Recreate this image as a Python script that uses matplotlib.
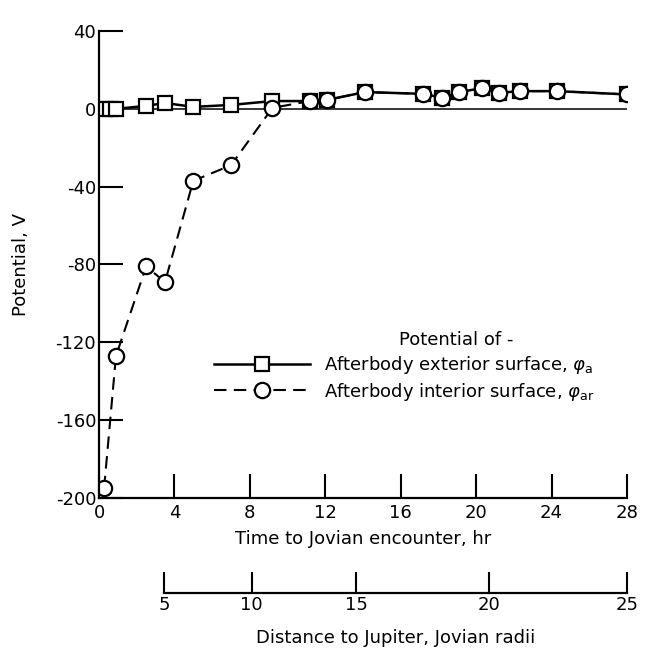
import matplotlib
matplotlib.use("Agg")
import matplotlib.pyplot as plt

# Data
time_ext = [0.3, 0.6, 0.9, 2.5, 3.5, 5.0, 7.0, 9.2, 11.2, 12.1, 14.1, 17.2,
            18.2, 19.1, 20.3, 21.2, 22.3, 24.3, 28.0]
pot_ext = [0, 0, 0, 1.5, 3, 1, 2, 4, 4, 4.6, 8.6, 7.7, 5.7, 8.6, 10.6, 8.2,
           9.1, 9.1, 7.4]

time_int = [0.27, 0.9, 2.5, 3.5, 5.0, 7.0, 9.2, 11.2, 12.1, 14.1, 17.2, 18.2,
            19.1, 20.3, 21.2, 22.3, 24.3, 28.0]
pot_int = [-195, -127, -81, -89, -37, -29, 0.5, 4, 4.6, 8.6, 7.7, 5.7, 8.6,
           10.6, 8.2, 9.1, 9.1, 7.4]

time_ticks = [0, 4, 8, 12, 16, 20, 24, 28]
pot_ticks = [40, 0, -40, -80, -120, -160, -200]

# distance scale (Jovian radii) and where each mark falls on the time axis
dist_labels = [5, 10, 15, 20, 25]
dist_at_time = [3.45, 8.1, 13.65, 20.7, 28.0]

plt.rcParams['font.family'] = ['DejaVu Sans']
plt.rcParams['font.size'] = 13
plt.rcParams['axes.unicode_minus'] = False
plt.rcParams['mathtext.fontset'] = 'dejavusans'

W, H = 645, 652
fig = plt.figure(figsize=(W / 100, H / 100), dpi=100)

x0, x1 = 99, 627
y_top, y_bot = 31, 498
ax = fig.add_axes([x0 / W, (H - y_bot) / H, (x1 - x0) / W, (y_bot - y_top) / H])

ax.plot(time_ext, pot_ext, color='black', lw=1.8, marker='s', ms=10,
        mfc='white', mec='black', mew=1.6,
        label=r'Afterbody exterior surface, $\varphi_{\rm a}$')
ax.plot(time_int, pot_int, color='black', lw=1.5, ls=(0, (6, 3.5)), marker='o',
        ms=11, mfc='white', mec='black', mew=1.6,
        label=r'Afterbody interior surface, $\varphi_{\rm ar}$')
ax.axhline(0, color='black', lw=1.1, zorder=1)

ax.set_xlim(0, 28)
ax.set_ylim(-200, 40)
ax.set_xticks(time_ticks)
ax.set_yticks(pot_ticks)
for s in ['top', 'right']:
    ax.spines[s].set_visible(False)
for s in ['left', 'bottom']:
    ax.spines[s].set_linewidth(1.6)
ax.tick_params(direction='in', length=17, width=1.5)
ax.tick_params(axis='x', pad=4)
ax.tick_params(axis='y', pad=2)

ax.set_ylabel('Potential, V')
ax.yaxis.set_label_coords((30 - x0) / (x1 - x0), 0.5)
ax.set_xlabel('Time to Jovian encounter, hr')
ax.xaxis.set_label_coords(0.5, (y_bot - 530) / (y_bot - y_top))

fig.text(399 / W, (H - 340) / H, 'Potential of -', va='center', ha='left')
ax.legend(loc='upper left', bbox_to_anchor=(214 / W, (H - 354) / H),
          bbox_transform=fig.transFigure, frameon=False, borderpad=0,
          borderaxespad=0, handlelength=5.3, handletextpad=0.8,
          labelspacing=0.25, numpoints=1)

# second scale: distance to Jupiter
y2 = 593
ax2 = fig.add_axes([x0 / W, (H - y2) / H, (x1 - x0) / W, 0.03])
ax2.patch.set_visible(False)
ax2.set_xlim(0, 28)
ax2.set_yticks([])
for s in ['top', 'right', 'left']:
    ax2.spines[s].set_visible(False)
ax2.spines['bottom'].set_bounds(dist_at_time[0], dist_at_time[-1])
ax2.spines['bottom'].set_linewidth(1.6)
ax2.set_xticks(dist_at_time)
ax2.set_xticklabels([str(d) for d in dist_labels])
ax2.tick_params(axis='x', direction='in', length=15, width=1.5, pad=2)
ax2.set_xlabel('Distance to Jupiter, Jovian radii')
ax2.xaxis.set_label_coords((dist_at_time[0] + dist_at_time[-1]) / 2 / 28,
                           (y2 - 629) / (0.03 * H))

fig.savefig('out.png', dpi=100)
